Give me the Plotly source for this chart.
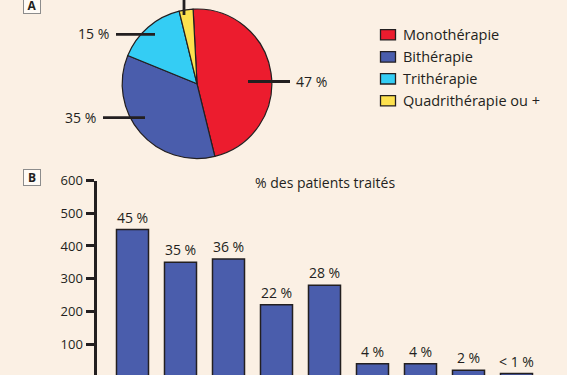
import plotly.graph_objects as go

# ---- data ----
pie_labels = ["Monothérapie", "Bithérapie", "Trithérapie", "Quadrithérapie ou +"]
pie_values = [47, 35, 15, 3]
pie_text = ["47 %", "35 %", "15 %", "3 %"]
pie_colors = ["#EC1C2E", "#4A5DAC", "#34CDF4", "#FDE14E"]

bar_categories = ["1", "2", "3", "4", "5", "6", "7", "8", "9"]
bar_values = [450, 350, 360, 220, 280, 40, 40, 20, 10]
bar_text = ["45 %", "35 %", "36 %", "22 %", "28 %", "4 %", "4 %", "2 %", "< 1 %"]
y_ticks = [0, 100, 200, 300, 400, 500, 600]

W, H = 567, 375
BG = "#FBF0E4"
INK = "#231F20"
FONT = "Open Sans"

# the photographed page shows the figure in rows TOP..H
TOP = 8.0


def px(x):
    return x / W


def py(y):
    return 1 - (y - TOP) / (H - TOP)


fig = go.Figure()

fig.add_trace(go.Pie(
    labels=pie_labels, values=pie_values, sort=False, direction="clockwise",
    rotation=-3, textinfo="none", hoverinfo="label+percent",
    marker=dict(colors=pie_colors, line=dict(color=INK, width=1.2)),
    domain=dict(x=[px(120), px(274)], y=[py(158), 1]),
    showlegend=False,
))

fig.add_trace(go.Bar(
    x=bar_categories, y=bar_values, text=bar_text, textposition="outside",
    constraintext="none", cliponaxis=False,
    textfont=dict(family=FONT, size=14, color=INK),
    marker=dict(color="#4A5DAC", line=dict(color=INK, width=1.5)),
    showlegend=False,
))

shapes = []
annotations = []

# pie label leaders
leaders = [
    (248, 80.7, 290, 80.7, pie_text[0], 294, 81, "left"),
    (103, 117, 145, 117, pie_text[1], 98, 117, "right"),
    (116, 33.5, 155, 33.5, pie_text[2], 111, 33, "right"),
]
for x0, y0, x1, y1, t, tx, ty, anc in leaders:
    shapes.append(dict(type="line", xref="paper", yref="paper",
                       x0=px(x0), y0=py(y0), x1=px(x1), y1=py(y1),
                       line=dict(color=INK, width=2.8)))
    annotations.append(dict(text=t, xref="paper", yref="paper", x=px(tx), y=py(ty),
                            xanchor=anc, yanchor="middle", showarrow=False,
                            font=dict(family=FONT, size=14, color=INK)))
shapes.append(dict(type="line", xref="paper", yref="paper",
                   x0=px(184), y0=py(-2), x1=px(184), y1=py(14),
                   line=dict(color=INK, width=2.8)))

# manual legend
row_y = [33.8, 56, 78, 100]
for lab, col, ry in zip(pie_labels, pie_colors, row_y):
    shapes.append(dict(type="rect", xref="paper", yref="paper",
                       x0=px(380.5), x1=px(395.5), y0=py(ry - 5.2), y1=py(ry + 5.2),
                       fillcolor=col, line=dict(color=INK, width=1.3)))
    annotations.append(dict(text=lab, xref="paper", yref="paper", x=px(401), y=py(ry),
                            xanchor="left", yanchor="middle", showarrow=False,
                            font=dict(family=FONT, size=14.5, color=INK)))

# panel letters
for letter, cy in [("A", 4), ("B", 177)]:
    annotations.append(dict(text="<b>%s</b>" % letter, xref="paper", yref="paper",
                            x=px(32), y=py(cy), xanchor="center", yanchor="middle",
                            showarrow=False, width=16, height=15,
                            bordercolor="#8C8C8C", borderwidth=1, borderpad=0,
                            bgcolor="#FFFBF6",
                            font=dict(family=FONT, size=12, color=INK)))

annotations.append(dict(text="% des patients traités", xref="paper", yref="paper",
                        x=px(325), y=py(182), xanchor="center", yanchor="middle",
                        showarrow=False, font=dict(family=FONT, size=14, color=INK)))

fig.update_layout(
    width=W, height=H, margin=dict(l=0, r=0, t=0, b=0),
    paper_bgcolor=BG, plot_bgcolor=BG,
    font=dict(family=FONT, color=INK),
    bargap=0.333,
    shapes=shapes, annotations=annotations,
    xaxis=dict(domain=[px(96.5), px(540.5)], range=[-0.75, 8.5], visible=False,
               type="category"),
    yaxis=dict(domain=[0, py(180)], range=[5.5, 600], tickvals=y_ticks,
               showline=True, linewidth=3, linecolor=INK, showgrid=False,
               zeroline=False, ticks="outside", ticklen=8, tickwidth=2.5,
               tickcolor=INK, tickfont=dict(family=FONT, size=13, color=INK)),
)

post = (
    "document.documentElement.style.margin='0';"
    "document.documentElement.style.overflow='hidden';"
    "document.documentElement.style.background='" + BG + "';"
    "document.body.style.margin='0';"
    "document.body.style.overflow='hidden';"
    "document.body.style.background='" + BG + "';"
    "var g=document.getElementById('{plot_id}');"
    "g.style.position='fixed';g.style.top='0px';g.style.left='0px';"
)
fig.write_html("out.html", config={"displayModeBar": False}, post_script=post)
